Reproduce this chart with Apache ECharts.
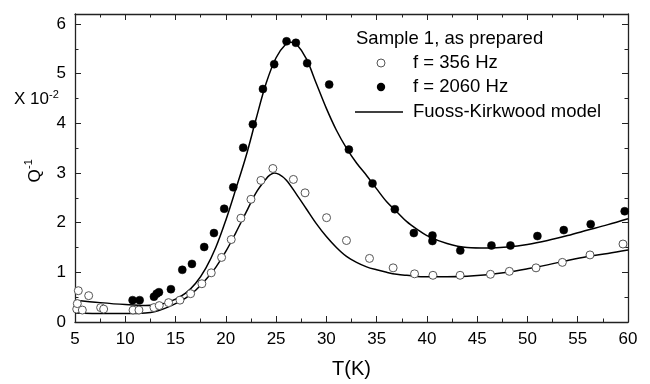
<!DOCTYPE html>
<html>
<head>
<meta charset="utf-8">
<script src="https://cdn.jsdelivr.net/npm/echarts@6/dist/echarts.min.js"></script>
<style>html,body{margin:0;padding:0;background:#fff;}#c{width:650px;height:384px;}</style>
</head>
<body>
<div id="c"></div>
<script>
// Data
var t356 = [5.17,5.23,5.33,5.73,6.36,7.55,7.85,10.77,11.36,12.85,13.38,14.31,15.44,16.5,17.62,18.55,19.58,20.54,21.5,22.5,23.49,24.68,26.72,27.88,30.02,32.0,34.29,36.64,38.77,40.6,43.3,46.32,48.2,50.85,53.47,56.22,59.5];
var q356 = [0.26,0.37,0.63,0.24,0.53,0.29,0.26,0.24,0.24,0.29,0.33,0.39,0.44,0.57,0.77,0.99,1.30,1.66,2.09,2.47,2.85,3.09,2.87,2.60,2.10,1.64,1.28,1.09,0.97,0.94,0.94,0.96,1.02,1.09,1.20,1.35,1.57];

var t2060 = [10.73,11.43,12.85,13.12,13.35,14.54,15.67,16.63,17.85,18.82,19.84,20.74,21.73,22.69,23.69,24.81,26.04,26.97,28.09,30.28,32.24,34.59,36.81,38.7,40.55,40.55,43.32,46.42,48.31,50.99,53.61,56.29,59.67];
var q2060 = [0.44,0.44,0.51,0.57,0.60,0.66,1.05,1.17,1.51,1.79,2.28,2.71,3.51,3.98,4.69,5.19,5.65,5.62,5.21,4.78,3.47,2.79,2.27,1.79,1.74,1.63,1.44,1.54,1.54,1.73,1.85,1.97,2.23];

var tFitHi = [5,7.5,10,12,13,14,15,16,17,18,19,20,21,22,23,24,25,26,26.5,27,28,29,30,31,32,33,34,35,36,37,38,39,40,42,44,46,48,50,52,54,56,58,60];
var qFitHi = [0.44,0.39,0.35,0.33,0.34,0.38,0.46,0.58,0.78,1.08,1.5,2.05,2.68,3.33,4.08,4.8,5.32,5.6,5.63,5.6,5.3,4.8,4.3,3.86,3.5,3.2,2.95,2.68,2.42,2.22,2.02,1.87,1.74,1.58,1.5,1.49,1.51,1.56,1.64,1.74,1.85,1.96,2.08];

var tFitLo = [5,8,10,12,13,14,15,16,17,18,19,20,21,22,23,24,24.4,24.8,25.3,26,27,28,29,30,31,32,33,34,35,36,37,38,40,42,44,46,48,50,52,54,56,58,60];
var qFitLo = [0.18,0.17,0.17,0.18,0.21,0.28,0.37,0.48,0.64,0.85,1.1,1.42,1.8,2.2,2.6,2.88,2.96,3.0,2.97,2.86,2.58,2.28,1.98,1.72,1.5,1.32,1.2,1.11,1.05,1.0,0.96,0.94,0.91,0.91,0.92,0.95,1.0,1.07,1.15,1.24,1.32,1.38,1.45];

var xTicks = [5,10,15,20,25,30,35,40,45,50,55,60];
var yTicks = [0,1,2,3,4,5,6];

function pairs(a,b){ return a.map(function(v,i){ return [v,b[i]]; }); }

var FONT = '"Liberation Sans", Arial, sans-serif';
var axisCommon = {
  type: 'value',
  axisLine: { show: true, onZero: false, lineStyle: { color: '#222', width: 1.3 } },
  axisTick: { show: true, inside: true, length: 6, lineStyle: { color: '#222', width: 1 } },
  minorTick: { show: true, splitNumber: 2, length: 3.5, lineStyle: { color: '#222', width: 1 } },
  splitLine: { show: false },
  minorSplitLine: { show: false }
};
function ax(extra){ return Object.assign({}, JSON.parse(JSON.stringify(axisCommon)), extra); }

var chart = echarts.init(document.getElementById('c'), null, { renderer: 'canvas' });
chart.setOption({
  animation: false,
  backgroundColor: '#fff',
  textStyle: { fontFamily: FONT },
  grid: { left: 75, right: 22, top: 14, bottom: 49 },
  xAxis: [
    ax({ position: 'bottom', min: xTicks[0], max: xTicks[xTicks.length-1], interval: 5,
      axisLabel: { show: true, color: '#000', fontSize: 17, margin: 9, fontFamily: FONT },
      name: 'T(K)', nameLocation: 'middle', nameGap: 37,
      nameTextStyle: { color: '#000', fontSize: 20, fontFamily: FONT } }),
    ax({ position: 'top', min: xTicks[0], max: xTicks[xTicks.length-1], interval: 5,
      axisLabel: { show: false } })
  ],
  yAxis: [
    ax({ position: 'left', min: yTicks[0], max: 6.2, interval: 1,
      axisLabel: { show: true, color: '#000', fontSize: 17, margin: 9, showMaxLabel: false, fontFamily: FONT } }),
    ax({ position: 'right', min: yTicks[0], max: 6.2, interval: 1,
      axisLabel: { show: false } })
  ],
  series: [
    { name: 'Fuoss-Kirkwood model (2060 Hz)', type: 'line', data: pairs(tFitHi, qFitHi),
      smooth: 0.35, showSymbol: false, symbol: 'none', lineStyle: { color: '#000', width: 1.5 }, z: 2 },
    { name: 'Fuoss-Kirkwood model (356 Hz)', type: 'line', data: pairs(tFitLo, qFitLo),
      smooth: 0.35, showSymbol: false, symbol: 'none', lineStyle: { color: '#000', width: 1.5 }, z: 2 },
    { name: 'f = 356 Hz', type: 'scatter', data: pairs(t356, q356), symbol: 'circle', symbolSize: 8,
      itemStyle: { color: '#fff', borderColor: '#555', borderWidth: 1, opacity: 1 }, z: 3 },
    { name: 'f = 2060 Hz', type: 'scatter', data: pairs(t2060, q2060), symbol: 'circle', symbolSize: 8,
      itemStyle: { color: '#000', borderColor: '#000', borderWidth: 0.5, opacity: 1 }, z: 4 }
  ],
  graphic: [
    { type: 'text', left: 14, top: 91, style: { text: 'X 10', font: '17px ' + FONT, fill: '#000' } },
    { type: 'text', left: 49, top: 89, style: { text: '-2', font: '11px ' + FONT, fill: '#000' } },
    { type: 'text', x: 35, y: 176, rotation: Math.PI/2,
      style: { text: 'Q', font: '17px ' + FONT, fill: '#000', textAlign: 'center', textVerticalAlign: 'middle' } },
    { type: 'text', x: 29, y: 164, rotation: Math.PI/2,
      style: { text: '-1', font: '11px ' + FONT, fill: '#000', textAlign: 'center', textVerticalAlign: 'middle' } },
    { type: 'text', x: 356, y: 39, style: { text: 'Sample 1, as prepared', font: '18.5px ' + FONT, fill: '#000', textVerticalAlign: 'middle' } },
    { type: 'circle', shape: { cx: 381, cy: 63, r: 4 }, style: { fill: '#fff', stroke: '#555', lineWidth: 1 } },
    { type: 'text', x: 413, y: 63, style: { text: 'f = 356 Hz', font: '18.5px ' + FONT, fill: '#000', textVerticalAlign: 'middle' } },
    { type: 'circle', shape: { cx: 381, cy: 87, r: 4.2 }, style: { fill: '#000' } },
    { type: 'text', x: 413, y: 87, style: { text: 'f = 2060 Hz', font: '18.5px ' + FONT, fill: '#000', textVerticalAlign: 'middle' } },
    { type: 'line', shape: { x1: 355, y1: 112, x2: 403, y2: 112 }, style: { stroke: '#000', lineWidth: 1.5 } },
    { type: 'text', x: 413, y: 112, style: { text: 'Fuoss-Kirkwood model', font: '18.5px ' + FONT, fill: '#000', textVerticalAlign: 'middle' } }
  ]
});
</script>
</body>
</html>
